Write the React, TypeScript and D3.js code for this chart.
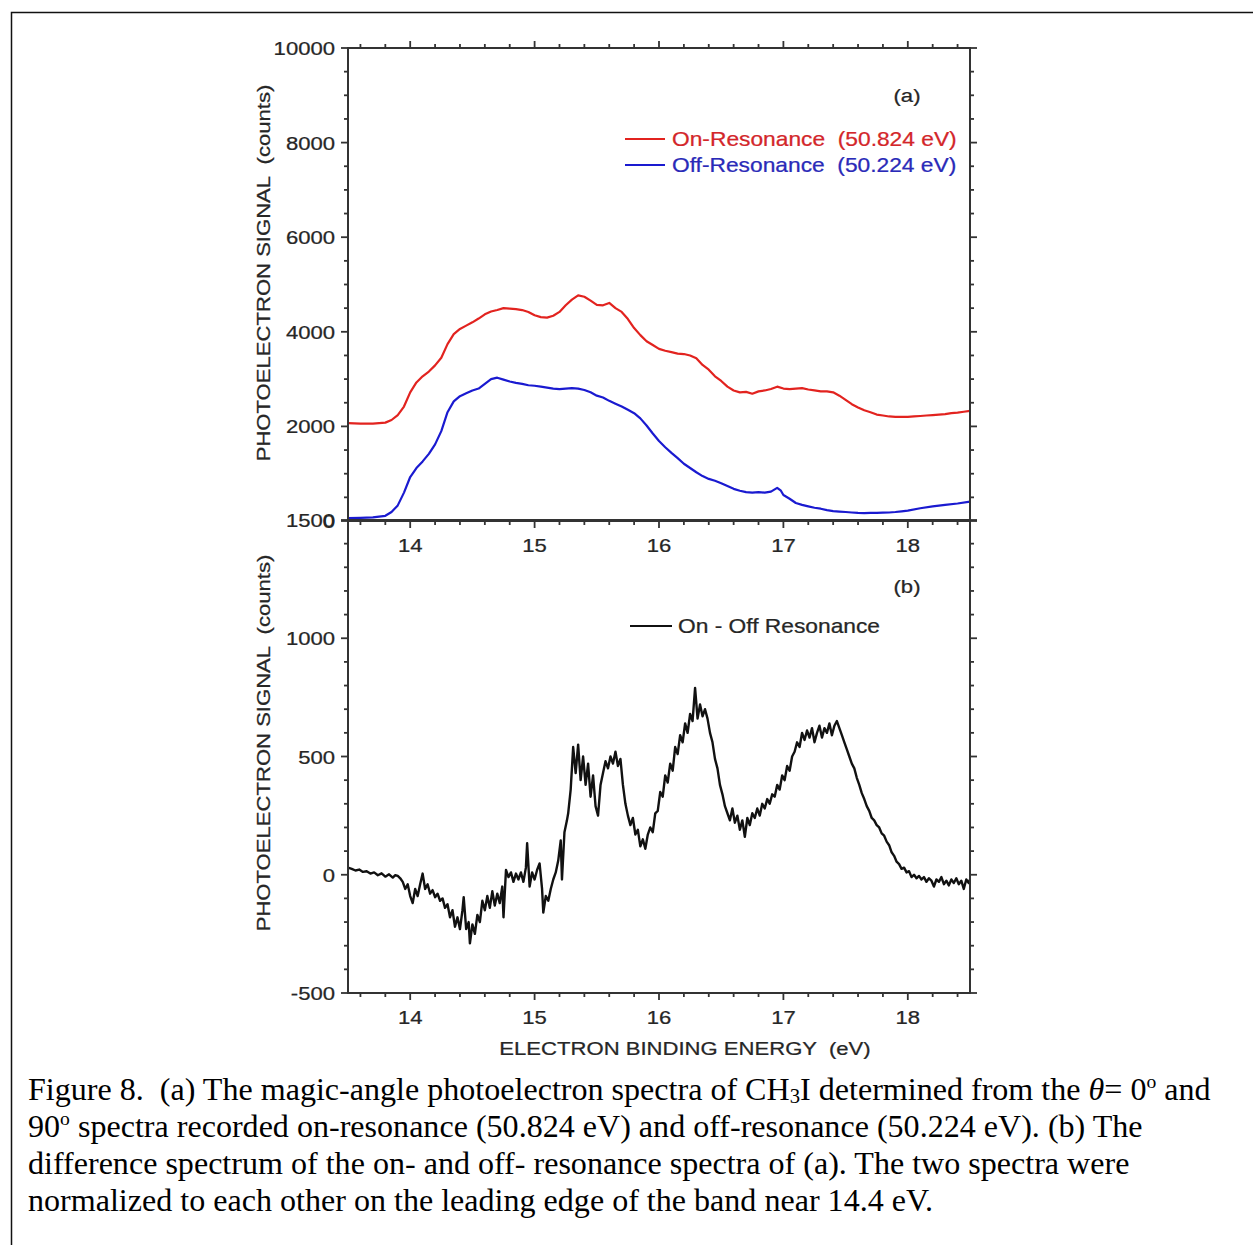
import React from "react";
import * as d3 from "d3";

// ---------- data ----------
const onResonance: [number, number][] = [
  [13.5, 2070], [13.6, 2060], [13.7, 2060], [13.8, 2080], [13.85, 2135], [13.9, 2240], [13.95, 2420],
  [14.0, 2720], [14.05, 2930], [14.1, 3060], [14.15, 3160], [14.2, 3290], [14.25, 3450], [14.3, 3740],
  [14.35, 3950], [14.4, 4060], [14.45, 4130], [14.5, 4200], [14.55, 4280], [14.6, 4370], [14.65, 4430],
  [14.7, 4460], [14.75, 4500], [14.8, 4490], [14.85, 4480], [14.9, 4460], [14.95, 4420], [15.0, 4350],
  [15.05, 4310], [15.1, 4300], [15.15, 4340], [15.2, 4420], [15.25, 4560], [15.3, 4680], [15.35, 4770],
  [15.4, 4740], [15.45, 4660], [15.5, 4570], [15.55, 4560], [15.6, 4610], [15.65, 4500], [15.7, 4420],
  [15.75, 4270], [15.8, 4080], [15.85, 3930], [15.9, 3800], [15.95, 3720], [16.0, 3640], [16.05, 3600],
  [16.1, 3570], [16.15, 3540], [16.2, 3530], [16.25, 3500], [16.3, 3440], [16.35, 3300], [16.4, 3200],
  [16.45, 3060], [16.5, 2960], [16.55, 2840], [16.6, 2760], [16.65, 2720], [16.7, 2730], [16.75, 2690],
  [16.8, 2740], [16.85, 2760], [16.9, 2790], [16.95, 2840], [17.0, 2800], [17.05, 2790], [17.1, 2800],
  [17.15, 2810], [17.2, 2780], [17.25, 2760], [17.3, 2740], [17.35, 2740], [17.4, 2720], [17.45, 2650],
  [17.5, 2560], [17.55, 2470], [17.6, 2400], [17.65, 2340], [17.7, 2300], [17.75, 2250], [17.8, 2230],
  [17.85, 2210], [17.9, 2200], [17.95, 2200], [18.0, 2200], [18.05, 2210], [18.1, 2220], [18.15, 2230],
  [18.2, 2240], [18.25, 2250], [18.3, 2260], [18.35, 2280], [18.4, 2290], [18.45, 2310], [18.5, 2330],
];

const offResonance: [number, number][] = [
  [13.5, 60], [13.6, 65], [13.7, 75], [13.8, 110], [13.85, 190], [13.9, 330], [13.95, 600],
  [14.0, 930], [14.05, 1120], [14.1, 1260], [14.15, 1420], [14.2, 1620], [14.25, 1900], [14.3, 2300],
  [14.35, 2530], [14.4, 2640], [14.45, 2700], [14.5, 2760], [14.55, 2800], [14.6, 2900], [14.65, 3000],
  [14.7, 3030], [14.75, 2990], [14.8, 2950], [14.85, 2920], [14.9, 2900], [14.95, 2870], [15.0, 2860],
  [15.05, 2840], [15.1, 2820], [15.15, 2800], [15.2, 2790], [15.25, 2800], [15.3, 2810], [15.35, 2800],
  [15.4, 2770], [15.45, 2720], [15.5, 2650], [15.55, 2610], [15.6, 2540], [15.65, 2480], [15.7, 2420],
  [15.75, 2350], [15.8, 2280], [15.85, 2170], [15.9, 2020], [15.95, 1850], [16.0, 1690], [16.05, 1560],
  [16.1, 1440], [16.15, 1330], [16.2, 1210], [16.25, 1120], [16.3, 1030], [16.35, 950], [16.4, 890],
  [16.45, 850], [16.5, 800], [16.55, 740], [16.6, 680], [16.65, 640], [16.7, 610], [16.75, 600],
  [16.8, 610], [16.85, 600], [16.9, 620], [16.95, 700], [16.98, 640], [17.0, 550], [17.05, 470],
  [17.1, 380], [17.15, 340], [17.2, 310], [17.25, 280], [17.3, 260], [17.35, 230], [17.4, 210],
  [17.45, 200], [17.5, 190], [17.55, 180], [17.6, 170], [17.65, 165], [17.7, 170], [17.75, 170],
  [17.8, 175], [17.85, 180], [17.9, 190], [17.95, 205], [18.0, 220], [18.1, 270], [18.2, 310],
  [18.3, 340], [18.4, 370], [18.5, 410],
];

const difference: [number, number][] = [
  [13.5, 30], [13.53, 25], [13.56, 18], [13.59, 22], [13.62, 12], [13.65, 15], [13.68, 5], [13.71, 10],
  [13.74, -2], [13.77, 6], [13.8, -8], [13.83, 2], [13.86, -12], [13.88, -2], [13.9, -5], [13.92, -15],
  [13.94, -30], [13.96, -60], [13.98, -40], [14.0, -90], [14.02, -120], [14.04, -60], [14.06, -90],
  [14.08, -40], [14.1, 5], [14.12, -60], [14.14, -40], [14.16, -80], [14.18, -65], [14.2, -95],
  [14.22, -80], [14.24, -110], [14.26, -100], [14.28, -140], [14.3, -125], [14.32, -180], [14.34, -150],
  [14.36, -220], [14.38, -180], [14.4, -230], [14.42, -150], [14.43, -95], [14.45, -230], [14.47, -200],
  [14.48, -290], [14.5, -210], [14.52, -250], [14.54, -170], [14.56, -200], [14.58, -110], [14.6, -150],
  [14.62, -90], [14.64, -140], [14.66, -70], [14.68, -130], [14.7, -80], [14.72, -120], [14.74, -50],
  [14.75, -180], [14.77, 20], [14.79, -10], [14.81, 10], [14.83, -30], [14.85, 5], [14.87, -20],
  [14.89, 10], [14.91, -30], [14.93, 30], [14.94, 133], [14.96, -50], [14.98, 10], [15.0, -20],
  [15.02, 20], [15.04, 48], [15.06, -60], [15.07, -160], [15.09, -90], [15.11, -110], [15.13, -60],
  [15.15, -20], [15.17, 10], [15.19, 60], [15.21, 145], [15.22, -20], [15.24, 180], [15.26, 230],
  [15.27, 260], [15.29, 360], [15.31, 540], [15.33, 430], [15.35, 550], [15.37, 400], [15.39, 500],
  [15.41, 380], [15.43, 470], [15.45, 330], [15.47, 420], [15.49, 290], [15.51, 250], [15.53, 380],
  [15.55, 430], [15.57, 480], [15.59, 450], [15.61, 500], [15.63, 470], [15.65, 520], [15.67, 460],
  [15.69, 490], [15.71, 380], [15.73, 300], [15.75, 250], [15.77, 210], [15.79, 240], [15.81, 170],
  [15.83, 190], [15.85, 120], [15.87, 150], [15.89, 110], [15.91, 170], [15.93, 200], [15.95, 180],
  [15.97, 260], [15.99, 270], [16.01, 350], [16.03, 330], [16.05, 420], [16.07, 390], [16.09, 470],
  [16.11, 440], [16.13, 540], [16.15, 510], [16.17, 590], [16.19, 560], [16.21, 640], [16.23, 600],
  [16.25, 680], [16.27, 650], [16.29, 790], [16.31, 660], [16.33, 720], [16.35, 670], [16.37, 700],
  [16.39, 660], [16.41, 600], [16.43, 560], [16.45, 490], [16.47, 450], [16.49, 380], [16.51, 340],
  [16.53, 290], [16.55, 260], [16.57, 230], [16.59, 280], [16.61, 220], [16.63, 250], [16.65, 190],
  [16.67, 230], [16.69, 160], [16.71, 240], [16.73, 210], [16.75, 260], [16.77, 240], [16.79, 280],
  [16.81, 250], [16.83, 300], [16.85, 280], [16.87, 320], [16.89, 300], [16.91, 340], [16.93, 330],
  [16.95, 380], [16.97, 360], [16.99, 420], [17.01, 400], [17.03, 460], [17.05, 440], [17.07, 500],
  [17.09, 520], [17.11, 560], [17.13, 540], [17.15, 600], [17.17, 570], [17.19, 610], [17.21, 580],
  [17.23, 620], [17.25, 560], [17.27, 600], [17.29, 630], [17.31, 580], [17.33, 620], [17.35, 600],
  [17.37, 640], [17.39, 590], [17.41, 630], [17.43, 650], [17.45, 620], [17.47, 590], [17.49, 560],
  [17.51, 530], [17.53, 500], [17.55, 470], [17.57, 450], [17.59, 410], [17.61, 380], [17.63, 345],
  [17.65, 320], [17.67, 290], [17.69, 270], [17.71, 240], [17.73, 230], [17.75, 210], [17.77, 200],
  [17.79, 175], [17.81, 165], [17.83, 140], [17.85, 125], [17.87, 95], [17.89, 80], [17.91, 55],
  [17.93, 45], [17.95, 25], [17.97, 30], [17.99, 10], [18.01, 15], [18.03, -10], [18.05, 0],
  [18.07, -15], [18.09, -5], [18.11, -20], [18.13, -10], [18.15, -30], [18.17, -15], [18.19, -25],
  [18.21, -50], [18.23, -20], [18.25, -30], [18.27, -10], [18.29, -40], [18.31, -25], [18.33, -45],
  [18.35, -20], [18.37, -35], [18.39, -15], [18.41, -40], [18.43, -25], [18.45, -60], [18.47, -20],
  [18.49, -35], [18.5, -20],
];

const xTicks = [14, 15, 16, 17, 18];
const upperYTicks = [0, 2000, 4000, 6000, 8000, 10000];
const lowerYTicks = [-500, 0, 500, 1000, 1500];

const captionLines = [
  "90º spectra recorded on-resonance (50.824 eV) and off-resonance (50.224 eV). (b) The",
  "difference spectrum of the on- and off- resonance spectra of (a). The two spectra were",
  "normalized to each other on the leading edge of the band near 14.4 eV.",
];

// ---------- layout ----------
const W = 1253;
const H = 1245;
const L = 348, R = 970;
const upTop = 48, upBot = 521;
const loTop = 520, loBot = 993;
const SX = 1.15;
const FONT = "'Liberation Sans', Arial, sans-serif";
const TXT = "#262626";
const AX = "#333";
const CAP_SX = 1.035;

const x = d3.scaleLinear().domain([13.5, 18.5]).range([L, R]);
const yUp = d3.scaleLinear().domain([0, 10000]).range([upBot, upTop]);
const yLo = d3.scaleLinear().domain([-500, 1500]).range([loBot, loTop]);

function ST(props: { x: number; y: number; anchor?: string; rot?: number; size?: number; fill?: string; children: any }) {
  const { x: px, y: py, anchor = "start", rot = 0, size = 19.2, fill = TXT, children } = props;
  return (
    <text
      transform={`translate(${px},${py}) rotate(${rot}) scale(${SX},1)`}
      textAnchor={anchor}
      fontFamily={FONT}
      fontSize={size}
      fill={fill}
      stroke={fill}
      strokeWidth={0.25}
      style={{ whiteSpace: "pre" }}
    >
      {children}
    </text>
  );
}

function range(a: number, b: number, step: number) {
  const out: number[] = [];
  for (let v = a; v <= b + 1e-9; v += step) out.push(Math.round(v * 1000) / 1000);
  return out;
}

export default function App() {
  const lineUp = d3.line<[number, number]>().x((d) => x(d[0])).y((d) => yUp(d[1]));
  const lineLo = d3.line<[number, number]>().x((d) => x(d[0])).y((d) => yLo(d[1]));

  const xMinor = range(13.6, 18.4, 0.2).filter((v) => !xTicks.some((t) => Math.abs(t - v) < 1e-6));
  const upMinor = range(0, 10000, 500).filter((v) => v % 2000 !== 0);
  const loMinor = range(-500, 1500, 100).filter((v) => v % 500 !== 0);

  const xTickMarks = (yLine: number, dir: number, key: string) => (
    <g key={key} stroke={AX} strokeWidth={1.8}>
      {xTicks.map((t) => (
        <line key={"M" + t} x1={x(t)} x2={x(t)} y1={yLine} y2={yLine + dir * 7} />
      ))}
      {xMinor.map((t) => (
        <line key={"m" + t} x1={x(t)} x2={x(t)} y1={yLine} y2={yLine + dir * 4} />
      ))}
    </g>
  );

  const yTickMarks = (scale: any, majors: number[], minors: number[], key: string) => (
    <g key={key} stroke={AX} strokeWidth={1.8}>
      {majors.map((t) => (
        <g key={"M" + t}>
          <line x1={L} x2={L - 7} y1={scale(t)} y2={scale(t)} />
          <line x1={R} x2={R + 7} y1={scale(t)} y2={scale(t)} />
        </g>
      ))}
      {minors.map((t) => (
        <g key={"m" + t}>
          <line x1={L} x2={L - 4} y1={scale(t)} y2={scale(t)} />
          <line x1={R} x2={R + 4} y1={scale(t)} y2={scale(t)} />
        </g>
      ))}
    </g>
  );

  const capText = (y: number, children: any) => (
    <text transform={`translate(28,${y}) scale(${CAP_SX},1)`} style={{ whiteSpace: "pre" }}>
      {children}
    </text>
  );

  return (
    <svg
      width={W}
      height={H}
      style={{ position: "absolute", left: 0, top: 0, background: "#fff" }}
      viewBox={`0 0 ${W} ${H}`}
    >
      <rect x={0} y={0} width={W} height={H} fill="#fff" />
      {/* outer frame */}
      <rect x={11.5} y={12.5} width={W + 20} height={H + 20} fill="none" stroke="#111" strokeWidth={1.5} />

      {/* data lines */}
      <path d={lineUp(onResonance) || ""} fill="none" stroke="#e2231f" strokeWidth={2.2} strokeLinejoin="round" />
      <path d={lineUp(offResonance) || ""} fill="none" stroke="#1a1ad0" strokeWidth={2.2} strokeLinejoin="round" />
      <path d={lineLo(difference) || ""} fill="none" stroke="#111" strokeWidth={2.4} strokeLinejoin="round" />

      {/* frames */}
      <rect x={L} y={upTop} width={R - L} height={upBot - upTop} fill="none" stroke={AX} strokeWidth={2} />
      <rect x={L} y={loTop} width={R - L} height={loBot - loTop} fill="none" stroke={AX} strokeWidth={2} />

      {/* ticks */}
      {xTickMarks(upTop, -1, "xt1")}
      {xTickMarks(upBot, 1, "xt2")}
      {xTickMarks(loBot, 1, "xt3")}
      {yTickMarks(yUp, upperYTicks, upMinor, "yt1")}
      {yTickMarks(yLo, lowerYTicks, loMinor, "yt2")}

      {/* tick labels */}
      {upperYTicks.map((t) => (
        <ST key={"ul" + t} x={335} y={yUp(t) + 7} anchor="end">{String(t)}</ST>
      ))}
      {lowerYTicks.map((t) => (
        <ST key={"ll" + t} x={335} y={yLo(t) + 7} anchor="end">{String(t)}</ST>
      ))}
      {xTicks.map((t) => (
        <ST key={"xl1" + t} x={x(t)} y={552} anchor="middle">{String(t)}</ST>
      ))}
      {xTicks.map((t) => (
        <ST key={"xl2" + t} x={x(t)} y={1024} anchor="middle">{String(t)}</ST>
      ))}

      {/* axis titles */}
      <ST x={270} y={273} anchor="middle" rot={-90}>{"PHOTOELECTRON SIGNAL  (counts)"}</ST>
      <ST x={270} y={743} anchor="middle" rot={-90}>{"PHOTOELECTRON SIGNAL  (counts)"}</ST>
      <ST x={685} y={1055} anchor="middle">{"ELECTRON BINDING ENERGY  (eV)"}</ST>

      {/* panel labels */}
      <ST x={907} y={102} anchor="middle">{"(a)"}</ST>
      <ST x={907} y={593} anchor="middle">{"(b)"}</ST>

      {/* legends */}
      <line x1={625} x2={665} y1={139} y2={139} stroke="#e2231f" strokeWidth={2.2} />
      <ST x={672} y={146} size={19.8} fill="#d3262a">{"On-Resonance  (50.824 eV)"}</ST>
      <line x1={625} x2={665} y1={165} y2={165} stroke="#1a1ad0" strokeWidth={2.2} />
      <ST x={672} y={172} size={19.8} fill="#2a2ab8">{"Off-Resonance  (50.224 eV)"}</ST>
      <line x1={630} x2={672} y1={626} y2={626} stroke="#111" strokeWidth={2.2} />
      <ST x={678} y={633} size={19.8}>{"On - Off Resonance"}</ST>

      {/* caption */}
      <g fontFamily="'Liberation Serif', 'Times New Roman', serif" fontSize={31} fill="#000">
        {capText(1100, (
          <>
            <tspan>{"Figure 8.  (a) The magic-angle photoelectron spectra of CH"}</tspan>
            <tspan fontSize={20} dy={3}>{"3"}</tspan>
            <tspan dy={-3}>{"I determined from the "}</tspan>
            <tspan fontStyle="italic">{"θ"}</tspan>
            <tspan>{"= 0"}</tspan>
            <tspan fontSize={19} dy={-12}>{"o"}</tspan>
            <tspan dy={12}>{" and"}</tspan>
          </>
        ))}
        {capText(1137, (
          <>
            <tspan>{"90"}</tspan>
            <tspan fontSize={19} dy={-12}>{"o"}</tspan>
            <tspan dy={12}>{captionLines[0].slice(3)}</tspan>
          </>
        ))}
        {capText(1174, captionLines[1])}
        {capText(1211, captionLines[2])}
      </g>
    </svg>
  );
}
